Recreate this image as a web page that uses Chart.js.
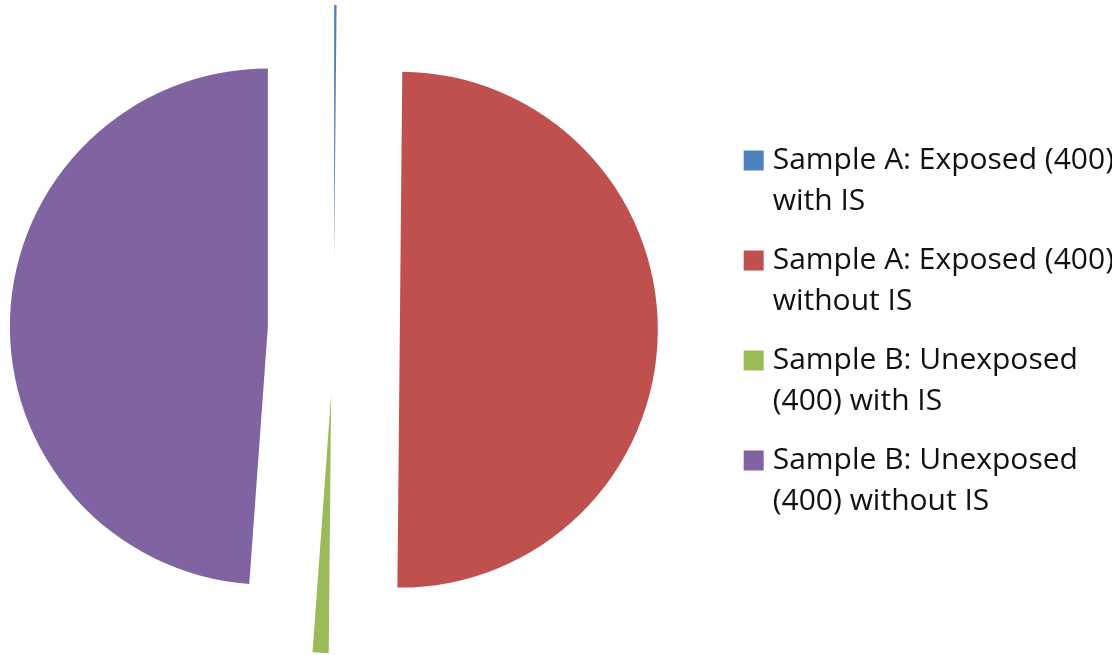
<!DOCTYPE html>
<html>
<head>
<meta charset="utf-8">
<script src="https://cdn.jsdelivr.net/npm/chart.js@4"></script>
<style>
  html, body { margin: 0; padding: 0; background: #fff; }
  #wrap { width: 1112px; height: 655px; }
</style>
</head>
<body>
<div id="wrap"><canvas id="myChart"></canvas></div>
<script>
// legend labels, split into the two lines they wrap to
var labels = [
    ['Sample A: Exposed (400)', 'with IS'],
    ['Sample A: Exposed (400)', 'without IS'],
    ['Sample B: Unexposed', '(400) with IS'],
    ['Sample B: Unexposed', '(400) without IS']
];
// share of each group, in percent
var shares = [0.15, 50.0, 1.0, 48.85];
var colors = ['#4f81bd', '#c0504d', '#9bbb59', '#8064a2'];

// how far every slice is pulled out of the centre (px)
var EXPLODE = 66;

// Chart.js' own "offset" also trims the slice angle, which eats the
// thin slices, so push each arc out along its mid-angle instead
var ArcElement = Chart.ArcElement || Chart.elements.ArcElement;
class ExplodedArc extends ArcElement {
    draw(ctx) {
        var mid = (this.startAngle + this.endAngle) / 2;
        ctx.save();
        ctx.translate(Math.cos(mid) * EXPLODE, Math.sin(mid) * EXPLODE);
        super.draw(ctx);
        ctx.restore();
    }
}
ExplodedArc.id = 'explodedArc';
Chart.register(ExplodedArc);
Chart.defaults.datasets.pie.dataElementType = 'explodedArc';

// negative left padding gets clamped to 0, so let the plot area run
// off the left edge here; the exploded pie is wider than the canvas
var widenPlotArea = {
    id: 'widenPlotArea',
    afterLayout: function (chart) {
        var area = chart.chartArea;
        area.left = -64;
        area.width = area.right - area.left;
    }
};

var ctx = document.getElementById("myChart");
var myChart = new Chart(ctx, {
    type: 'pie',
    data: {
        labels: labels,
        datasets: [{
            data: shares,
            backgroundColor: colors,
            borderWidth: 0,
            hoverOffset: 0,
            radius: 258,
            clip: false
        }]
    },
    plugins: [widenPlotArea],
    options: {
        responsive: true,
        maintainAspectRatio: false,
        layout: {
            padding: {left: 0, right: -12, top: 3, bottom: 0}
        },
        plugins: {
            legend: {
                position: 'right',
                align: 'center',
                title: {
                    display: true,
                    text: '',
                    padding: 0,
                    font: {size: 12, lineHeight: '15px'}
                },
                labels: {
                    usePointStyle: true,
                    pointStyle: 'rect',
                    boxWidth: 8,
                    boxHeight: 20,
                    padding: 18,
                    color: '#111',
                    font: {
                        family: 'Open Sans',
                        size: 30,
                        lineHeight: '41px'
                    }
                }
            },
            tooltip: {enabled: false}
        },
        animation: {
            duration: 0
        },
        hover: {
            animationDuration: 0
        }
    }
});
</script>
</body>
</html>
